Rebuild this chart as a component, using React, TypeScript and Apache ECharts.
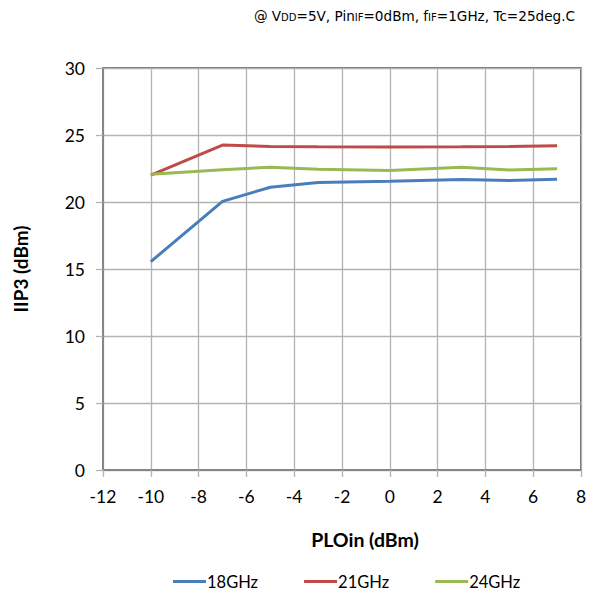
import React, { useEffect, useRef } from "react";
import * as echarts from "echarts";

const ploIn = [-10, -7, -5, -3, 0, 3, 5, 7];
const iip3_18GHz = [15.55, 20.05, 21.1, 21.45, 21.55, 21.68, 21.6, 21.7];
const iip3_21GHz = [22.0, 24.25, 24.15, 24.12, 24.1, 24.12, 24.15, 24.2];
const iip3_24GHz = [22.08, 22.4, 22.6, 22.45, 22.35, 22.6, 22.38, 22.48];

const seriesNames = ["18GHz", "21GHz", "24GHz"];
const seriesColors = ["#4a7ebb", "#be4b48", "#98b954"];

const fontUI = "'DejaVu Sans', sans-serif";
const fontBody = "Lato, 'Open Sans', sans-serif";

export default function App() {
  const ref = useRef<HTMLDivElement>(null);

  useEffect(() => {
    if (!ref.current) return;
    const chart = echarts.init(ref.current, undefined, { renderer: "svg" });
    const toPairs = (ys: number[]) => ploIn.map((x, i) => [x, ys[i]]);
    const allValues = [iip3_18GHz, iip3_21GHz, iip3_24GHz];

    chart.setOption({
      animation: false,
      backgroundColor: "#ffffff",
      title: {
        text: "@ V{s|DD}=5V, Pin{s|IF}=0dBm, f{s|IF}=1GHz, Tc=25deg.C",
        right: 22,
        top: 4,
        textStyle: {
          fontFamily: fontUI,
          fontSize: 13.6,
          fontWeight: "normal",
          color: "#000",
          rich: {
            s: { fontFamily: fontUI, fontSize: 10, color: "#000", padding: [3, 0, 0, 0] },
          },
        },
      },
      legend: {
        bottom: 6,
        left: 168,
        itemWidth: 33,
        itemHeight: 3,
        itemGap: 46,
        icon: "rect",
        data: seriesNames,
        textStyle: { fontFamily: fontBody, fontSize: 16.5, color: "#000", padding: [0, 0, 0, -4] },
      },
      grid: {
        left: 103,
        right: 21,
        top: 68,
        bottom: 131,
        show: true,
        borderColor: "#404040",
        borderWidth: 1.5,
      },
      xAxis: {
        type: "value",
        min: -12,
        max: 8,
        interval: 2,
        name: "PLOin (dBm)",
        nameLocation: "middle",
        nameGap: 59,
        nameTextStyle: {
          fontFamily: fontBody,
          fontSize: 19.5,
          fontWeight: "bold",
          color: "#000",
          padding: [0, 0, 0, 46],
        },
        axisLine: { onZero: false, lineStyle: { color: "#868686", width: 2 } },
        axisTick: { show: true, length: 7, lineStyle: { color: "#b3b3b3", width: 1.3 } },
        axisLabel: { fontFamily: fontBody, fontSize: 17.5, color: "#000", margin: 17 },
        splitLine: { lineStyle: { color: "#b3b3b3", width: 1.3 } },
      },
      yAxis: {
        type: "value",
        min: 0,
        max: 30,
        interval: 5,
        name: "IIP3 (dBm)",
        nameLocation: "middle",
        nameGap: 73,
        nameTextStyle: { fontFamily: fontBody, fontSize: 19, fontWeight: "bold", color: "#000" },
        axisLine: { show: true, onZero: false, lineStyle: { color: "#868686", width: 2 } },
        axisTick: { show: true, length: 7, lineStyle: { color: "#b3b3b3", width: 1.3 } },
        axisLabel: { fontFamily: fontBody, fontSize: 17.5, color: "#000", margin: 18 },
        splitLine: { lineStyle: { color: "#b3b3b3", width: 1.3 } },
      },
      series: seriesNames.map((name, i) => ({
        name,
        type: "line",
        data: toPairs(allValues[i]),
        symbol: "none",
        color: seriesColors[i],
        lineStyle: { width: 3, color: seriesColors[i] },
      })),
    });

    return () => chart.dispose();
  }, []);

  return <div ref={ref} style={{ width: 602, height: 601, position: "absolute", left: 0, top: 0 }} />;
}
